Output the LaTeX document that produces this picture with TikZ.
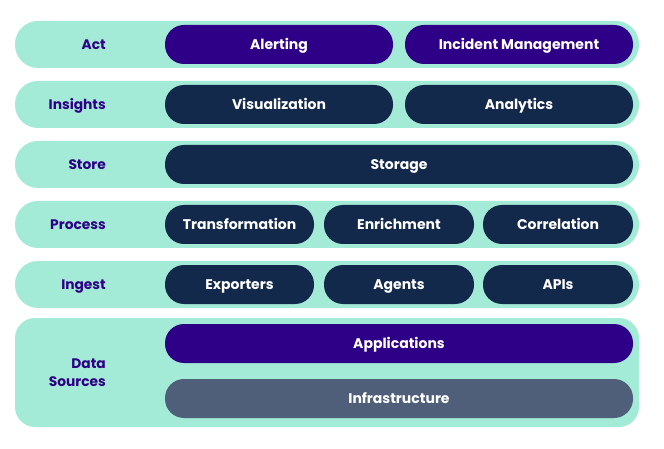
\documentclass[tikz,border=0pt]{standalone}
\usepackage{fontspec}
\setmainfont{Poppins}
\definecolor{mint}{HTML}{A3EBD6}
\definecolor{deep}{HTML}{2E0087}
\definecolor{navy}{HTML}{13294B}
\definecolor{slate}{HTML}{4F5F7A}
\tikzset{
  band/.style={fill=mint, draw=none, rounded corners=23pt, minimum height=47pt, minimum width=624pt, inner sep=0pt},
  bigband/.style={fill=mint, draw=none, rounded corners=20pt, minimum height=109pt, minimum width=624pt, inner sep=0pt},
  pill/.style={draw=none, rounded corners=19pt, minimum height=39pt, inner sep=0pt, text=white, text height=10pt, text depth=0pt, font=\fontsize{14}{16}\selectfont\bfseries},
  purplepill/.style={pill, fill=deep},
  navypill/.style={pill, fill=navy},
  slatepill/.style={pill, fill=slate},
  lbl/.style={anchor=east, text=deep, font=\fontsize{13.8}{18}\selectfont\bfseries, align=right, inner sep=0pt, text height=10pt, text depth=0pt}
}
\begin{document}
\begin{tikzpicture}[x=1pt,y=-1pt]
\useasboundingbox (0,0) rectangle (664,449);
% bands
\node[band] (bAct) at (327,44.5) {};
\node[band] (bIns) at (327,104.5) {};
\node[band] (bSto) at (327,164.5) {};
\node[band] (bPro) at (327,224.5) {};
\node[band] (bIng) at (327,284.5) {};
\node[bigband] (bDat) at (327,372.5) {};
% labels
\node[lbl] (lAct) at (106,44.5) {Act};
\node[lbl] (lIns) at (106,104.5) {Insights};
\node[lbl] (lSto) at (106,164.5) {Store};
\node[lbl] (lPro) at (106,224.5) {Process};
\node[lbl] (lIng) at (106,284.5) {Ingest};
\node[lbl, text height=, text depth=] (lDat) at (106,372.5) {Data\\Sources};
% act
\node[purplepill, minimum width=228pt] (alert) at (279,44.5) {Alerting};
\node[purplepill, minimum width=228pt] (incid) at (519,44.5) {Incident Management};
% insights
\node[navypill, minimum width=228pt] (visu) at (279,104.5) {Visualization};
\node[navypill, minimum width=228pt] (analy) at (519,104.5) {Analytics};
% store
\node[navypill, minimum width=468pt] (stor) at (399,164.5) {Storage};
% process
\node[navypill, minimum width=149pt] (trans) at (239.5,224.5) {Transformation};
\node[navypill, minimum width=150pt] (enri) at (399,224.5) {Enrichment};
\node[navypill, minimum width=150pt] (corr) at (558,224.5) {Correlation};
% ingest
\node[navypill, minimum width=149pt] (expo) at (239.5,284.5) {Exporters};
\node[navypill, minimum width=150pt] (agen) at (399,284.5) {Agents};
\node[navypill, minimum width=150pt] (apis) at (558,284.5) {APIs};
% data sources
\node[purplepill, minimum width=468pt] (apps) at (399,343.5) {Applications};
\node[slatepill, minimum width=468pt] (infra) at (399,398.5) {Infrastructure};
\end{tikzpicture}
\end{document}
